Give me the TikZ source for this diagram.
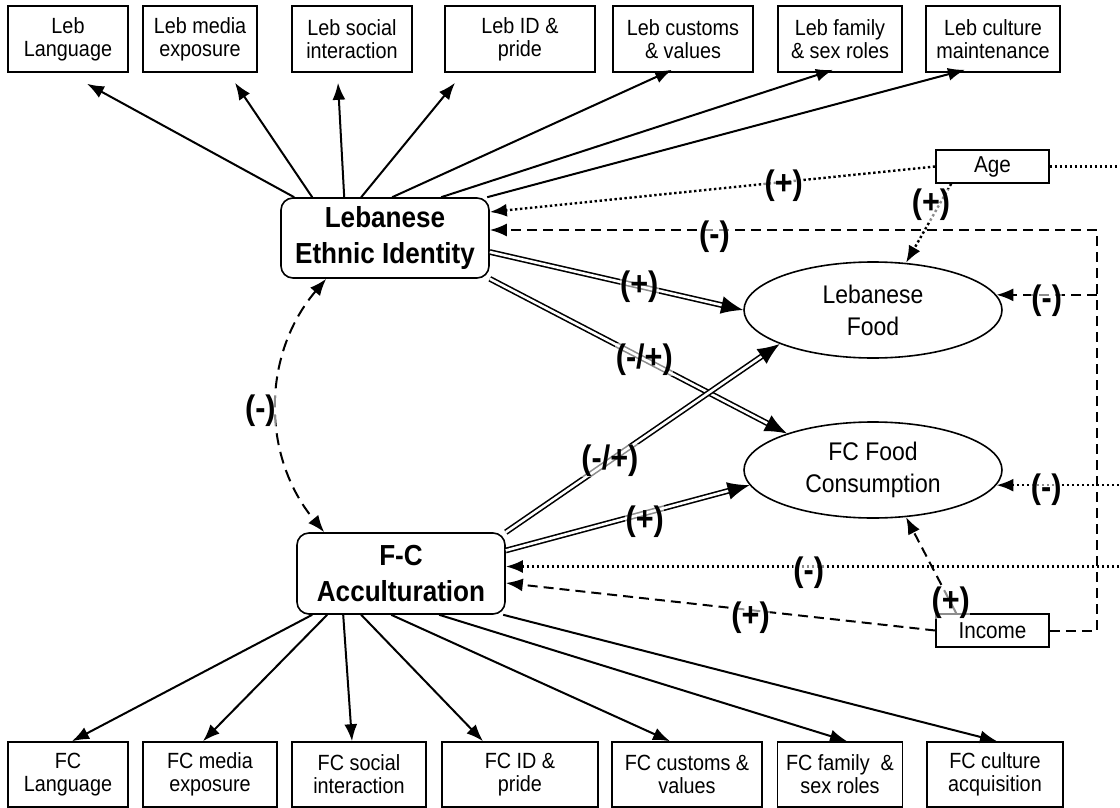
\documentclass[tikz,border=0pt]{standalone}
\usepackage{fontspec}
\setmainfont{Liberation Sans}[FakeStretch=0.9]
\usepackage{tikz}
\usetikzlibrary{arrows.meta,shapes.geometric}
\tikzset{>={Latex[length=17pt,width=13pt]}}
\tikzset{
  itembox/.style={draw, line width=1.6pt, align=center, inner sep=0pt, minimum height=66pt, font=\fontsize{22}{23}\selectfont},
  constructbox/.style={draw, line width=1.6pt, rounded corners=12pt, align=center, inner sep=0pt, minimum width=208pt, minimum height=80pt, font=\bfseries\fontsize{29}{36}\selectfont},
  foodnode/.style={draw, ellipse, line width=1.6pt, align=center, inner sep=0pt, minimum width=258pt, minimum height=96pt, font=\fontsize{25.5}{32}\selectfont},
  covbox/.style={draw, line width=1.6pt, inner sep=0pt, minimum width=113pt, minimum height=33pt, font=\fontsize{23}{23}\selectfont},
  sign/.style={font=\bfseries\fontsize{34}{34}\selectfont, fill=white, fill opacity=0.55, text opacity=1, inner sep=0.5pt},
  load/.style={->, line width=2pt},
  effect/.style={-{Latex[length=22pt,width=18pt]}, double, line width=1.6pt, double distance=2.6pt},
  agepath/.style={->, line width=2.4pt, dash pattern=on 2.4pt off 2.6pt},
  incpath/.style={->, line width=2pt, dash pattern=on 10pt off 6pt},
}

\begin{document}
\begin{tikzpicture}[x=1pt,y=-1pt]
\useasboundingbox (0,0) rectangle (1120,808);
\node[itembox, minimum width=120pt] (lebLang) at (68,39) {Leb\\Language};
\node[itembox, minimum width=114pt] (lebMedia) at (200,39) {Leb media\\exposure};
\node[itembox, minimum width=120pt] (lebSocial) at (352,39) {Leb social\\interaction};
\node[itembox, minimum width=150pt] (lebPride) at (520,39) {Leb ID \&\\pride};
\node[itembox, minimum width=140pt] (lebCustoms) at (683,39) {Leb customs\\\& values};
\node[itembox, minimum width=124pt] (lebFamily) at (840,39) {Leb family\\\& sex roles};
\node[itembox, minimum width=134pt] (lebCulture) at (993,39) {Leb culture\\maintenance};

\node[itembox, minimum width=120pt, minimum height=65pt] (fcLang) at (68,774.5) {FC\\Language};
\node[itembox, minimum width=134pt, minimum height=65pt] (fcMedia) at (210,774.5) {FC media\\exposure};
\node[itembox, minimum width=134pt, minimum height=65pt] (fcSocial) at (359,774.5) {FC social\\interaction};
\node[itembox, minimum width=156pt, minimum height=65pt] (fcPride) at (520,774.5) {FC ID \&\\pride};
\node[itembox, minimum width=150pt, minimum height=65pt] (fcCustoms) at (687,774.5) {FC customs \&\\values};
\node[itembox, minimum width=125pt, minimum height=65pt] (fcFamily) at (840,774.5) {FC family~ \&\\sex roles};
\node[itembox, minimum width=136pt, minimum height=65pt] (fcCulture) at (995,774.5) {FC culture\\acquisition};

\node[constructbox] (leb) at (385,238) {Lebanese\\Ethnic Identity};
\node[constructbox, minimum height=81pt] (fca) at (401,573.5) {F-C\\Acculturation};
\node[foodnode] (lebFood) at (873,310) {Lebanese\\Food};
\node[foodnode] (fcFood) at (873,470) {FC Food\\Consumption};
\node[covbox] (age) at (992.5,166.5) {Age};
\node[covbox] (income) at (992.5,630.5) {Income};

\coordinate (edge) at (1124,0);
\coordinate (loop) at (1097,0);
\coordinate (ageIn) at ([yshift=26pt]leb.east);
\coordinate (incIn) at ([yshift=8pt]leb.east);
\coordinate (fcaDot) at ([yshift=7pt]fca.east);
\coordinate (fcaDash) at ([yshift=-9.5pt]fca.east);

\path[load]
  ([xshift=14pt]leb.north west) edge ([xshift=19pt,yshift=-11pt]lebLang.south)
  ([xshift=32pt]leb.north west) edge ([xshift=35pt,yshift=-10pt]lebMedia.south)
  ([xshift=64pt]leb.north west) edge ([xshift=-14pt,yshift=-10pt]lebSocial.south)
  ([xshift=81pt]leb.north west) edge ([xshift=-65pt,yshift=-10pt]lebPride.south)
  ([xshift=112pt]leb.north west) edge ([xshift=-11pt,yshift=3pt]lebCustoms.south)
  ([xshift=161pt]leb.north west) edge ([xshift=-7pt,yshift=3pt]lebFamily.south)
  ([xshift=207pt]leb.north west) edge ([xshift=-28pt,yshift=3pt]lebCulture.south);

\path[load]
  ([xshift=16pt]fca.south west) edge ([xshift=4pt]fcLang.north)
  ([xshift=31pt]fca.south west) edge ([xshift=-7pt]fcMedia.north)
  ([xshift=47pt]fca.south west) edge ([xshift=-7pt]fcSocial.north)
  ([xshift=65pt]fca.south west) edge ([xshift=-37pt]fcPride.north)
  ([xshift=95pt]fca.south west) edge ([xshift=-17pt]fcCustoms.north)
  ([xshift=143pt]fca.south west) edge ([xshift=7pt]fcFamily.north)
  ([xshift=207pt]fca.south west) edge ([xshift=2pt]fcCulture.north);

\draw[<->, line width=2pt, dash pattern=on 12pt off 7pt] ([xshift=46pt]leb.south west) to[bend right=40] node[sign, midway, xshift=-17pt, yshift=-6pt]{(-)} ([xshift=28pt]fca.north west);

\draw[effect] ([yshift=-14pt]leb.east) -- node[sign, pos=0.59]{(+)} (lebFood.west);
\draw[effect] (leb.south east) -- node[sign, pos=0.52]{(-/+)} (fcFood.157);
\draw[effect] (fca.north east) -- node[sign, pos=0.38]{(-/+)} (lebFood.200);
\draw[effect] ([yshift=23pt]fca.east) -- node[sign, pos=0.57, yshift=-8pt]{(+)} (fcFood.187);

\draw[agepath] (age.west) -- node[sign, pos=0.34, yshift=-4pt]{(+)} (ageIn);
\draw[agepath] ([xshift=16pt]age.south west) -- node[sign, pos=0.27, xshift=-8pt]{(+)} (lebFood.55);
\draw[agepath, -] (age.east) -- (age.east -| edge);
\draw[agepath] (fcFood.-7 -| edge) -- node[sign, pos=0.61, yshift=-5pt]{(-)} (fcFood.-7);
\draw[agepath] (fcaDot -| edge) -- node[sign, pos=0.51, yshift=-6pt]{(-)} (fcaDot);

\draw[incpath] (income.east) -- (income.east -| loop) -- (incIn -| loop) -- node[sign, pos=0.63, yshift=-7pt]{(-)} (incIn);
\draw[incpath] (lebFood.7 -| loop) -- node[sign, pos=0.5, yshift=-6pt]{(-)} (lebFood.7);
\draw[incpath] (income.west) -- node[sign, pos=0.43, yshift=-8pt]{(+)} (fcaDash);
\draw[incpath] ([xshift=21pt]income.north west) -- node[sign, pos=0.11]{(+)} (fcFood.-55);
\end{tikzpicture}
\end{document}
